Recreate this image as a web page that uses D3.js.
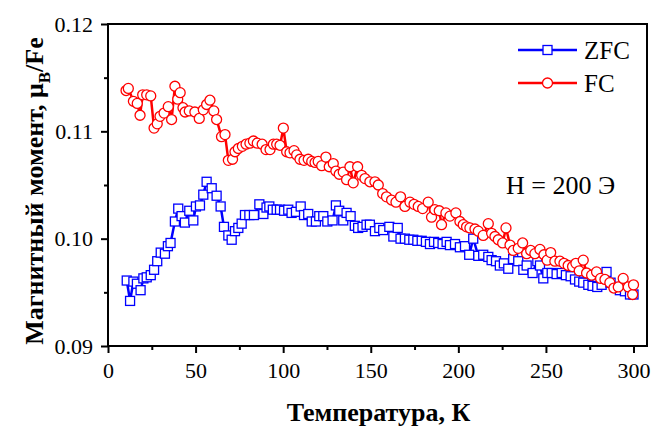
<!DOCTYPE html>
<html>
<head>
<meta charset="utf-8">
<script src="https://cdn.jsdelivr.net/npm/d3@7"></script>
<style>
  html, body { margin: 0; padding: 0; background: #fff; }
  svg { display: block; }
</style>
</head>
<body>
<svg id="chart" width="654" height="430" font-family="Liberation Serif"></svg>
<script>
// Temperature (K) and magnetic moment (μB/Fe), zero-field-cooled run
const tempZFC = [10.7, 12.6, 14.5, 16.5, 18.6, 20.2, 22.1, 24.4, 26.3, 28.1, 30.1, 32.5, 34.2, 35.7, 38.2, 40.1, 42.0, 43.9, 46.4, 48.7,
  50.2, 52.5, 54.4, 56.3, 59.2, 62.0, 64.3, 66.2, 68.7, 70.6, 72.5, 74.4, 76.3, 78.2, 80.7, 83.3, 86.4, 88.7, 90.5, 92.1,
  94.1, 96.3, 98.2, 100.5, 102.9, 104.8, 107.3, 110.0, 111.9, 114.3, 116.3, 118.7, 120.6, 122.9, 125.2, 128.2, 130.1, 132.0, 134.3, 136.2,
  138.5, 140.9, 142.8, 145.3, 147.6, 149.5, 152.4, 154.9, 157.1, 160.6, 162.9, 165.4, 167.0, 169.5, 172.0, 174.3, 176.6, 179.1, 181.5, 183.8,
  186.1, 188.5, 191.0, 193.3, 195.2, 198.1, 200.9, 203.8, 206.2, 208.5, 211.4, 214.2, 217.1, 219.0, 221.5, 223.7, 226.0, 228.5, 231.3, 234.2,
  237.1, 239.0, 242.4, 245.1, 246.6, 248.5, 250.8, 253.3, 256.1, 259.0, 261.4, 264.1, 266.6, 269.0, 271.3, 274.2, 276.6, 279.3, 281.8, 284.6,
  286.9, 289.4, 292.2, 295.1, 298.0, 300.0];
const momentZFC = [0.0961, 0.0942, 0.0960, 0.0958, 0.0952, 0.0963, 0.0964, 0.0966, 0.0971, 0.0979, 0.0987, 0.0986, 0.0993, 0.0996, 0.1016, 0.1028, 0.1021, 0.1015, 0.1026, 0.1017,
  0.1030, 0.1031, 0.1041, 0.1053, 0.1047, 0.1040, 0.1030, 0.1011, 0.1003, 0.0999, 0.1007, 0.1010, 0.1014, 0.1022, 0.1022, 0.1022, 0.1032, 0.1023, 0.1029, 0.1030,
  0.1027, 0.1027, 0.1027, 0.1026, 0.1027, 0.1024, 0.1025, 0.1030, 0.1022, 0.1023, 0.1016, 0.1016, 0.1021, 0.1021, 0.1016, 0.1017, 0.1031, 0.1026, 0.1017, 0.1024,
  0.1021, 0.1012, 0.1010, 0.1011, 0.1013, 0.1013, 0.1007, 0.1010, 0.1008, 0.1011, 0.1002, 0.1010, 0.1000, 0.1000, 0.0999, 0.0999, 0.0998, 0.0998, 0.0997, 0.0995,
  0.0997, 0.0996, 0.0995, 0.0997, 0.0994, 0.0995, 0.0992, 0.0993, 0.0985, 0.1000, 0.0984, 0.0985, 0.0983, 0.0980, 0.0979, 0.0975, 0.0977, 0.0972, 0.0981, 0.0979,
  0.0971, 0.0975, 0.0968, 0.0979, 0.0975, 0.0963, 0.0968, 0.0968, 0.0967, 0.0968, 0.0966, 0.0965, 0.0962, 0.0960, 0.0959, 0.0957, 0.0956, 0.0955, 0.0957, 0.0969,
  0.0959, 0.0955, 0.0952, 0.0951, 0.0948, 0.0948];

// Field-cooled run
const tempFC = [10.3, 11.6, 14.5, 16.7, 18.3, 19.8, 22.1, 24.4, 26.3, 28.1, 29.7, 32.0, 34.4, 36.3, 38.2, 39.8, 41.2, 42.8, 44.0, 46.4,
  49.6, 52.1, 54.4, 56.3, 58.2, 60.4, 62.0, 64.8, 66.8, 68.7, 71.1, 72.5, 74.4, 76.7, 78.8, 81.0, 83.0, 85.2, 88.0, 90.2,
  92.5, 94.4, 96.3, 98.2, 100.1, 102.0, 103.9, 106.2, 107.7, 109.6, 111.9, 114.3, 116.3, 118.2, 120.0, 122.0, 124.4, 126.3, 128.6, 130.1,
  132.0, 134.3, 136.2, 138.1, 140.0, 142.5, 144.8, 146.7, 149.5, 152.4, 154.3, 156.8, 159.0, 161.9, 164.4, 167.0, 169.5, 172.4, 174.7, 177.1,
  179.6, 182.8, 184.7, 186.6, 189.1, 190.4, 192.9, 195.2, 198.6, 200.9, 202.8, 204.7, 206.6, 209.5, 211.4, 214.2, 217.1, 219.0, 220.9, 222.8,
  225.3, 227.2, 229.5, 231.3, 234.2, 236.7, 239.0, 241.3, 243.7, 246.6, 248.9, 250.7, 252.7, 255.1, 258.0, 260.3, 262.7, 265.2, 267.1, 269.0,
  271.3, 273.2, 276.1, 278.9, 281.2, 283.7, 286.5, 288.8, 291.3, 294.1, 297.0, 299.5, 300.0];
const momentFC = [0.1138, 0.1140, 0.1128, 0.1126, 0.1115, 0.1134, 0.1134, 0.1133, 0.1103, 0.1107, 0.1114, 0.1117, 0.1123, 0.1111, 0.1142, 0.1130, 0.1136, 0.1122, 0.1118, 0.1119,
  0.1118, 0.1112, 0.1120, 0.1125, 0.1129, 0.1119, 0.1111, 0.1095, 0.1097, 0.1073, 0.1074, 0.1081, 0.1084, 0.1086, 0.1088, 0.1089, 0.1091, 0.1089, 0.1088, 0.1083,
  0.1083, 0.1088, 0.1088, 0.1087, 0.1103, 0.1081, 0.1080, 0.1082, 0.1078, 0.1074, 0.1073, 0.1074, 0.1072, 0.1071, 0.1072, 0.1068, 0.1076, 0.1067, 0.1070, 0.1063,
  0.1060, 0.1062, 0.1055, 0.1067, 0.1052, 0.1067, 0.1059, 0.1056, 0.1053, 0.1053, 0.1050, 0.1042, 0.1039, 0.1036, 0.1034, 0.1039, 0.1030, 0.1034, 0.1032, 0.1030,
  0.1028, 0.1034, 0.1020, 0.1027, 0.1026, 0.1013, 0.1024, 0.1021, 0.1024, 0.1016, 0.1013, 0.1011, 0.1010, 0.1009, 0.1007, 0.1003, 0.1014, 0.1005, 0.1002, 0.0999,
  0.0996, 0.1010, 0.0994, 0.0989, 0.0991, 0.0996, 0.0986, 0.0989, 0.0986, 0.0990, 0.0985, 0.0980, 0.0987, 0.0979, 0.0979, 0.0977, 0.0975, 0.0974, 0.0977, 0.0970,
  0.0980, 0.0968, 0.0966, 0.0969, 0.0963, 0.0962, 0.0959, 0.0954, 0.0955, 0.0963, 0.0955, 0.0948, 0.0957];

const xTicks = [0, 50, 100, 150, 200, 250, 300];
const yTicks = [0.09, 0.10, 0.11, 0.12];
const seriesNames = ["ZFC", "FC"];
const fieldLabel = "H = 200 Э";
const xTitle = "Температура, К";

const FONT = "Liberation Serif";
const svg = d3.select("#chart");
const plotLeft = 108, plotRight = 647, plotTop = 24, plotBottom = 346;

const x = d3.scaleLinear().domain([0, 307.7]).range([plotLeft, plotRight]);
const y = d3.scaleLinear().domain([0.09, 0.12]).range([plotBottom, plotTop]);

// frame
svg.append("rect")
  .attr("x", plotLeft).attr("y", plotTop)
  .attr("width", plotRight - plotLeft).attr("height", plotBottom - plotTop)
  .attr("fill", "none").attr("stroke", "#000").attr("stroke-width", 2);

// x axis: major and minor ticks
const xAxis = d3.axisBottom(x).tickValues(xTicks).tickSize(7).tickPadding(9).tickFormat(d3.format("d"));
const gx = svg.append("g").attr("transform", `translate(0,${plotBottom})`).call(xAxis)
  .attr("font-family", FONT).attr("font-size", 22);
gx.select(".domain").remove();
gx.selectAll("line").attr("stroke-width", 2);
gx.selectAll("text").attr("fill", "#000").attr("font-family", FONT);
const gxm = svg.append("g").attr("transform", `translate(0,${plotBottom})`)
  .call(d3.axisBottom(x).tickValues(xTicks.slice(0, -1).map(d => d + 25)).tickSize(4).tickFormat(""));
gxm.select(".domain").remove();
gxm.selectAll("line").attr("stroke-width", 2);

// y axis
const yAxis = d3.axisLeft(y).tickValues(yTicks).tickSize(7).tickPadding(8).tickFormat(d3.format(".2f"));
const gy = svg.append("g").attr("transform", `translate(${plotLeft},0)`).call(yAxis)
  .attr("font-family", FONT).attr("font-size", 22);
gy.select(".domain").remove();
gy.selectAll("line").attr("stroke-width", 2);
gy.selectAll("text").attr("fill", "#000").attr("font-family", FONT);
const gym = svg.append("g").attr("transform", `translate(${plotLeft},0)`)
  .call(d3.axisLeft(y).tickValues(yTicks.slice(0, -1).map(d => d + 0.005)).tickSize(4).tickFormat(""));
gym.select(".domain").remove();
gym.selectAll("line").attr("stroke-width", 2);

// axis titles
svg.append("text")
  .attr("x", 378.5).attr("y", 421)
  .attr("text-anchor", "middle")
  .attr("font-family", FONT).attr("font-size", 26).attr("font-weight", "bold")
  .text(xTitle);

const yt = svg.append("text")
  .attr("transform", `translate(43,191) rotate(-90)`)
  .attr("text-anchor", "middle")
  .attr("font-family", FONT).attr("font-size", 26).attr("font-weight", "bold");
yt.append("tspan").text("Магнитный момент, μ");
yt.append("tspan").attr("dy", 7).attr("font-size", 17).text("B");
yt.append("tspan").attr("dy", -7).text("/Fe");

const line = d3.line().x(d => x(d[0])).y(d => y(d[1]));
const zfc = tempZFC.map((t, i) => [t, momentZFC[i]]);
const fc = tempFC.map((t, i) => [t, momentFC[i]]);

const blue = "#0000ff", red = "#ff0000";
const sq = 9, rad = 5;

function drawSquares(g, data) {
  g.selectAll("rect").data(data).join("rect")
    .attr("x", d => x(d[0]) - sq / 2).attr("y", d => y(d[1]) - sq / 2)
    .attr("width", sq).attr("height", sq)
    .attr("fill", "#fff").attr("stroke", blue).attr("stroke-width", 1.3);
}
function drawCircles(g, data) {
  g.selectAll("circle").data(data).join("circle")
    .attr("cx", d => x(d[0])).attr("cy", d => y(d[1])).attr("r", rad)
    .attr("fill", "#fff").attr("stroke", red).attr("stroke-width", 1.3);
}

svg.append("path").datum(zfc).attr("d", line)
  .attr("fill", "none").attr("stroke", blue).attr("stroke-width", 2.5);
drawSquares(svg.append("g"), zfc);
svg.append("path").datum(fc).attr("d", line)
  .attr("fill", "none").attr("stroke", red).attr("stroke-width", 2.5);
drawCircles(svg.append("g"), fc);

// legend
const legendRows = [{name: seriesNames[0], color: blue, y: 50}, {name: seriesNames[1], color: red, y: 83}];
legendRows.forEach((r, i) => {
  const g = svg.append("g");
  g.append("line").attr("x1", 518).attr("x2", 577).attr("y1", r.y).attr("y2", r.y)
    .attr("stroke", r.color).attr("stroke-width", 2.5);
  if (i === 0) {
    g.append("rect").attr("x", 547.5 - sq / 2).attr("y", r.y - sq / 2).attr("width", sq).attr("height", sq)
      .attr("fill", "#fff").attr("stroke", blue).attr("stroke-width", 1.3);
  } else {
    g.append("circle").attr("cx", 547.5).attr("cy", r.y).attr("r", rad)
      .attr("fill", "#fff").attr("stroke", red).attr("stroke-width", 1.3);
  }
  g.append("text").attr("x", 584).attr("y", r.y + 8.5)
    .attr("font-family", FONT).attr("font-size", 25).text(r.name);
});

svg.append("text").attr("x", 506).attr("y", 194)
  .attr("font-family", FONT).attr("font-size", 26).text(fieldLabel);
</script>
</body>
</html>
